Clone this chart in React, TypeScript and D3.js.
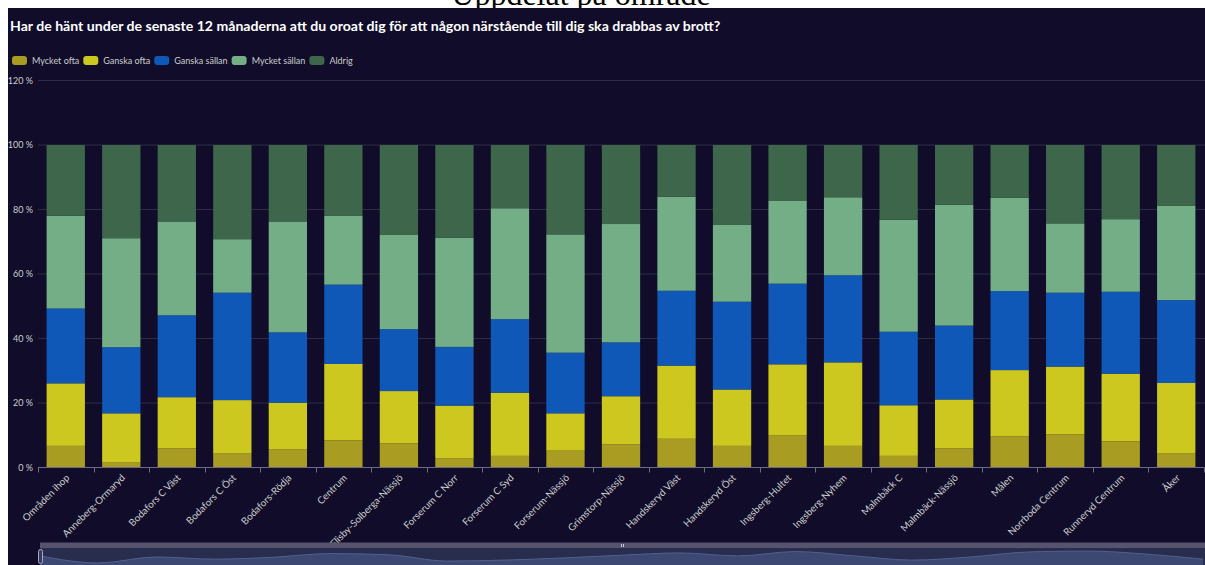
import React, { useEffect, useRef } from 'react';
import * as d3 from 'd3';

const categories = [
    'Områden ihop', 'Anneberg-Ormaryd', 'Bodafors C Väst', 'Bodafors C Öst', 'Bodafors-Rödja',
    'Centrum', 'Flisby-Solberga-Nässjö', 'Forserum C Norr', 'Forserum C Syd', 'Forserum-Nässjö',
    'Grimstorp-Nässjö', 'Handskeryd Väst', 'Handskeryd Öst', 'Ingsberg-Hultet', 'Ingsberg-Nyhem',
    'Malmbäck C', 'Malmbäck-Nässjö', 'Målen', 'Norrboda Centrum', 'Runneryd Centrum', 'Åker'
];

const seriesNames = ['Mycket ofta', 'Ganska ofta', 'Ganska sällan', 'Mycket sällan', 'Aldrig'];
const seriesColors = ['#a99c23', '#cdc81f', '#0f58b8', '#73ae86', '#3e664b'];

const mycketOfta = [6.7, 1.5, 5.9, 4.3, 5.7, 8.4, 7.5, 2.9, 3.6, 5.2, 7.2, 8.9, 6.7, 9.9, 6.7, 3.6, 5.9, 9.6, 10.3, 8.1, 4.3];
const ganskaOfta = [19.4, 15.3, 15.9, 16.6, 14.4, 23.7, 16.2, 16.3, 19.6, 11.6, 14.9, 22.7, 17.5, 22.1, 25.9, 15.7, 15.2, 20.6, 21.0, 21.0, 21.9];
const ganskaSallan = [23.2, 20.5, 25.4, 33.3, 21.8, 24.6, 19.2, 18.2, 22.8, 18.8, 16.7, 23.2, 27.2, 25.0, 27.0, 22.8, 22.9, 24.5, 22.9, 25.4, 25.7];
const mycketSallan = [28.8, 33.8, 29.1, 16.6, 34.4, 21.3, 29.2, 33.8, 34.4, 36.7, 36.7, 29.2, 23.8, 25.8, 24.2, 34.7, 37.5, 28.9, 21.5, 22.5, 29.2];
const aldrig = [21.9, 28.9, 23.7, 29.2, 23.7, 22.0, 27.9, 28.8, 19.6, 27.7, 24.5, 16.0, 24.8, 17.2, 16.2, 23.2, 18.5, 16.4, 24.3, 23.0, 18.9];

const yTicks = [0, 20, 40, 60, 80, 100, 120];

const title = 'Har de hänt under de senaste 12 månaderna att du oroat dig för att någon närstående till dig ska drabbas av brott?';
const pageHeading = 'Uppdelat på område';

const App: React.FC = () => {
    const svgRef = useRef<SVGSVGElement | null>(null);

    useEffect(() => {
        const svg = d3.select(svgRef.current);
        svg.selectAll('*').remove();

        const width = 1205;
        const height = 565;
        const font = 'Lato, "Open Sans", sans-serif';

        // page heading sitting above the chart panel (cut off at the top, as on the page)
        svg.append('text')
            .attr('x', 581)
            .attr('y', 5)
            .attr('text-anchor', 'middle')
            .style('font-family', '"Liberation Serif", "DejaVu Serif", serif')
            .style('font-size', '32px')
            .attr('fill', '#000')
            .text(pageHeading);

        svg.append('rect')
            .attr('x', 8).attr('y', 8)
            .attr('width', width - 8).attr('height', height - 8)
            .attr('fill', '#100c2a');

        svg.append('text')
            .attr('x', 10).attr('y', 31)
            .attr('fill', '#ffffff')
            .style('font-family', font)
            .style('font-size', '14.1px')
            .style('font-weight', 'bold')
            .text(title);

        // legend
        const legend = svg.append('g').attr('transform', 'translate(12,61)');
        let lx = 0;
        seriesNames.forEach((name, i) => {
            const g = legend.append('g').attr('transform', `translate(${lx},0)`);
            g.append('rect')
                .attr('x', 0).attr('y', -5)
                .attr('width', 15).attr('height', 9)
                .attr('rx', 3)
                .attr('fill', seriesColors[i]);
            const t = g.append('text')
                .attr('x', 20).attr('y', 0)
                .attr('dy', '0.35em')
                .attr('fill', '#cccccc')
                .style('font-family', font)
                .style('font-size', '9px')
                .text(name);
            const w = (t.node() as SVGTextElement).getComputedTextLength();
            lx += 20 + w + 4;
        });

        const x = d3.scaleBand<string>()
            .domain(categories)
            .range([38, 1204])
            .paddingInner(0.31)
            .paddingOuter(0.155);

        const y = d3.scaleLinear()
            .domain([0, 120])
            .range([467.5, 80.5]);

        // grid + y labels
        const grid = svg.append('g');
        yTicks.forEach(t => {
            if (t > 0) {
                grid.append('line')
                    .attr('x1', 38).attr('x2', width)
                    .attr('y1', y(t)).attr('y2', y(t))
                    .attr('stroke', '#2f2c45')
                    .attr('stroke-width', 1);
            }
            grid.append('text')
                .attr('x', 33).attr('y', y(t))
                .attr('dy', '0.35em')
                .attr('text-anchor', 'end')
                .attr('fill', '#cccccc')
                .style('font-family', font)
                .style('font-size', '9px')
                .text(`${t} %`);
        });

        // stacked bars
        const table = categories.map((c, i) => ({
            cat: c,
            'Mycket ofta': mycketOfta[i],
            'Ganska ofta': ganskaOfta[i],
            'Ganska sällan': ganskaSallan[i],
            'Mycket sällan': mycketSallan[i],
            'Aldrig': aldrig[i],
        }));
        const stack = d3.stack<any>().keys(seriesNames)(table);

        svg.append('g')
            .selectAll('g')
            .data(stack)
            .enter()
            .append('g')
            .attr('fill', (_d, i) => seriesColors[i])
            .selectAll('rect')
            .data(d => d)
            .enter()
            .append('rect')
            .attr('x', d => x(d.data.cat)!)
            .attr('y', d => y(d[1]))
            .attr('width', x.bandwidth())
            .attr('height', d => y(d[0]) - y(d[1]));

        // x axis
        const step = x.step();
        const axis = svg.append('g');
        axis.append('line')
            .attr('x1', 38).attr('x2', 1204)
            .attr('y1', 467.5).attr('y2', 467.5)
            .attr('stroke', '#6e6b88');
        d3.range(categories.length + 1).forEach(i => {
            const tx = Math.round(38 + i * step) + 0.5;
            axis.append('line')
                .attr('x1', tx).attr('x2', tx)
                .attr('y1', 467.5).attr('y2', 472.5)
                .attr('stroke', '#6e6b88');
        });
        categories.forEach(c => {
            const cx = x(c)! + x.bandwidth() / 2;
            axis.append('text')
                .attr('transform', `translate(${cx + 2},${476}) rotate(-45)`)
                .attr('text-anchor', 'end')
                .attr('dy', '0.35em')
                .attr('fill', '#cccccc')
                .style('font-family', font)
                .style('font-size', '9.8px')
                .text(c);
        });

        // dataZoom slider at the bottom
        const sx0 = 40;
        const sx1 = 1203;
        const slider = svg.append('g');
        slider.append('rect')
            .attr('x', sx0).attr('y', 542.5)
            .attr('width', width - sx0).attr('height', 6)
            .attr('fill', '#56536f');
        slider.append('rect')
            .attr('x', sx0).attr('y', 548.5)
            .attr('width', width - sx0).attr('height', 20)
            .attr('fill', '#282c4d');
        const shx = d3.scaleLinear().domain([0, categories.length - 1]).range([sx0, sx1]);
        const shy = d3.scaleLinear().domain([0, d3.max(mycketOfta)!]).range([565, 551]);
        const area = d3.area<number>()
            .x((_d, i) => shx(i))
            .y0(570)
            .y1(d => shy(d))
            .curve(d3.curveMonotoneX);
        const line = d3.line<number>()
            .x((_d, i) => shx(i))
            .y(d => shy(d))
            .curve(d3.curveMonotoneX);
        slider.append('path')
            .attr('d', area(mycketOfta)!)
            .attr('fill', '#3c4872');
        slider.append('path')
            .attr('d', line(mycketOfta)!)
            .attr('fill', 'none')
            .attr('stroke', '#52608f')
            .attr('stroke-width', 1);
        slider.append('rect')
            .attr('x', 38.5).attr('y', 549.5)
            .attr('width', 4).attr('height', 14)
            .attr('rx', 2)
            .attr('fill', '#3a3a5c')
            .attr('stroke', '#a8a6c4');
        [621, 623].forEach(mx => {
            slider.append('line')
                .attr('x1', mx + 0.5).attr('x2', mx + 0.5)
                .attr('y1', 544).attr('y2', 547)
                .attr('stroke', '#c8c6e0');
        });
    }, []);

    return (
        <svg
            ref={svgRef}
            width={1205}
            height={565}
            style={{ position: 'absolute', left: 0, top: 0, display: 'block', background: '#ffffff' }}
        />
    );
};

export default App;
